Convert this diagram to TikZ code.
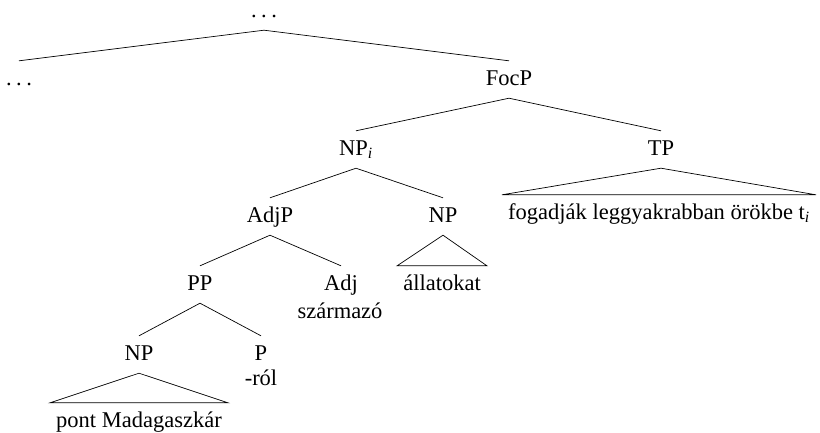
\documentclass[tikz,border=0pt]{standalone}
\usepackage{fontspec}
\setmainfont{Liberation Serif}
\newcommand{\mydots}{.\kern4.5pt.\kern4.5pt.}
\begin{document}
\begin{tikzpicture}[x=1pt,y=-1pt,
  lab/.style={anchor=base,font=\fontsize{22.5}{27}\selectfont,text height=24pt,text depth=13pt,inner ysep=0pt,inner xsep=6pt},
  word/.style={anchor=base,font=\fontsize{22.5}{27}\selectfont,inner sep=0pt},
  branch/.style={line width=0.7pt}]
\useasboundingbox (0,0) rectangle (820,432);
\node[lab] (top) at (264,17) {\mydots};
\node[lab] (ld) at (19,85) {\mydots};
\node[lab] (focp) at (509,85) {FocP};
\node[lab] (npi) at (356,155) {NP\textsubscript{\textit{i}}};
\node[lab] (tp) at (661,155) {TP};
\node[lab] (adjp) at (270,222) {AdjP};
\node[lab] (np1) at (443,222) {NP};
\node[lab] (pp) at (200,290) {PP};
\node[lab] (adj) at (341,290) {Adj};
\node[word] (szarm) at (340,318) {származó};
\node[lab] (allat) at (442,290) {állatokat};
\node[lab] (npb) at (139,360) {NP};
\node[lab] (p) at (261,360) {P};
\node[word] (rol) at (261,385) {-ról};
\node[lab] (pont) at (139,427) {pont Madagaszkár};
\node[lab] (tptext) at (659,219) {fogadják leggyakrabban örökbe t\textsubscript{\textit{i}}};
\draw[branch] (ld.north) -- (top.south) -- (focp.north);
\draw[branch] (npi.north) -- (focp.south) -- (tp.north);
\draw[branch] (adjp.north) -- (npi.south) -- (np1.north);
\draw[branch] (pp.north) -- (adjp.south) -- (adj.north);
\draw[branch] (npb.north) -- (pp.south) -- (p.north);
\draw[branch] (np1.south) -- (allat.north west) -- (allat.north east) -- cycle;
\draw[branch] (npb.south) -- (pont.north west) -- (pont.north east) -- cycle;
\draw[branch] (tp.south) -- (tptext.north west) -- (tptext.north east) -- cycle;
\end{tikzpicture}
\end{document}
